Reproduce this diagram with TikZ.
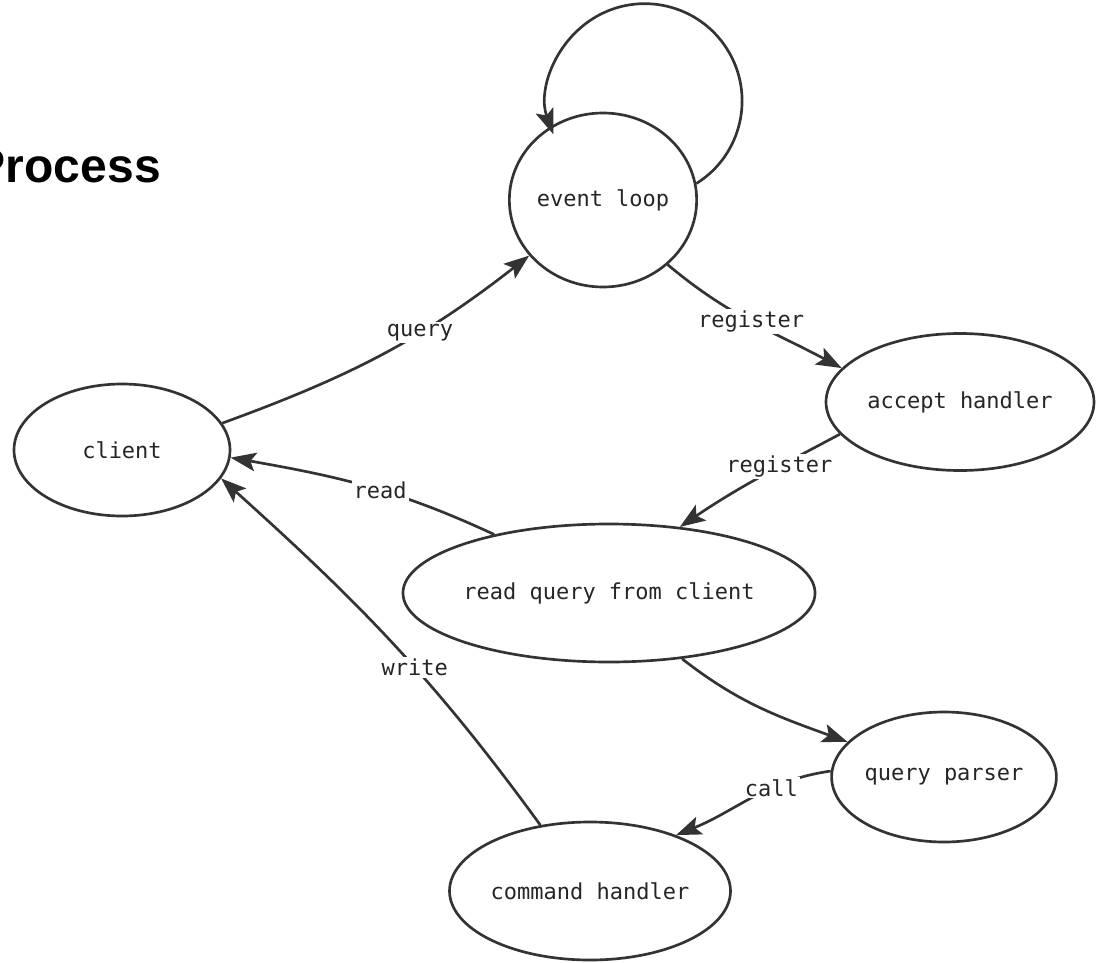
\documentclass[tikz,border=0pt]{standalone}
\usepackage{fontspec}
\setmonofont{DejaVu Sans Mono}
\newfontfamily\titlefont{Liberation Sans}
\usetikzlibrary{shapes.geometric,arrows.meta}
\definecolor{ink}{HTML}{333333}
\tikzset{
  state/.style={ellipse, draw=ink, line width=2pt, fill=white, inner sep=0pt,
    font=\ttfamily\fontsize{16.5}{18}\selectfont, text=black!85},
  edge/.style={draw=ink, line width=2pt,
    -{Stealth[length=19pt, width=14pt, inset=4pt]}},
  lbl/.style={font=\ttfamily\fontsize{16.5}{18}\selectfont, text=black!85,
    fill=white, inner sep=1.5pt}
}
\begin{document}
\begin{tikzpicture}[x=0.75pt,y=0.75pt]
  \useasboundingbox (0,0) rectangle (1096,-963);

  % title
  \node[anchor=base east, inner sep=0pt, font=\titlefont\bfseries\fontsize{36}{40}\selectfont]
    (title) at (161,-183) {Process};

  % states
  \node[state, minimum width=136.5pt, minimum height=130.5pt] (loop)   at (603,-200) {event loop};
  \node[state, minimum width=201pt,   minimum height=102.75pt] (accept) at (960,-402) {accept handler};
  \node[state, minimum width=162pt,   minimum height=99pt]    (client) at (122,-450) {client};
  \node[state, minimum width=264pt,   minimum height=103.5pt] (read)   at (609,-593) {read query from client};
  \node[state, minimum width=139.5pt, minimum height=97.5pt]  (parser) at (944,-777) {query parser};
  \node[state, minimum width=198pt,   minimum height=103.5pt] (cmd)    at (590,-891) {command handler};

  % self loop of the event loop
  \draw[edge] (loop.10) arc[start angle=-58, end angle=200, radius=73pt];

  % transitions
  \draw[edge] (client.15) to[out=20, in=-142]
    node[lbl, pos=0.63] {query} (loop.-143);
  \draw[edge] (loop.-45) to[out=-40, in=152]
    node[lbl, pos=0.5] {register} (accept.164);
  \draw[edge] (accept.195) to[out=208, in=34]
    node[lbl, pos=0.36] {register} (read.43);
  \draw[edge] (read.153) to[out=155, in=-10]
    node[lbl, pos=0.44] {read} (client.-4);
  \draw[edge] (read.-42) to[out=-38, in=160] (parser.160);
  \draw[edge] (parser.177) to[out=188, in=22]
    node[lbl, pos=0.36] {call} (cmd.33);
  \draw[edge] (cmd.127) to[out=126, in=-42]
    node[lbl, pos=0.42] {write} (client.-16);
\end{tikzpicture}
\end{document}
